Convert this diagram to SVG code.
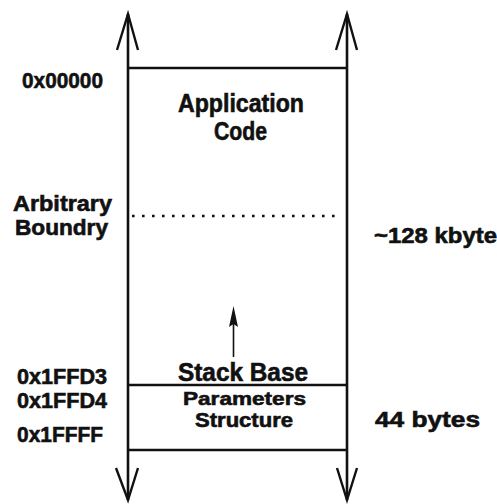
<svg xmlns="http://www.w3.org/2000/svg" width="497" height="504" viewBox="0 0 497 504">
  <style>
    .t { font-family: "Liberation Sans", Arial, sans-serif; font-weight: bold; fill: #111; stroke: #111; stroke-width: 0.6; }
    .ln { stroke: #111; stroke-width: 2.6; fill: none; }
    .arr { stroke: #111; stroke-width: 2.4; fill: none; stroke-linejoin: miter; }
    .dot { stroke: #111; stroke-width: 2.6; stroke-dasharray: 2.6 7.4; fill: none; }
  </style>

  <!-- address axis lines with open arrowheads at both ends -->
  <g id="connectors">
    <line class="ln" x1="128" y1="14" x2="128" y2="500"/>
    <line class="ln" x1="347" y1="14" x2="347" y2="500"/>
    <polyline class="arr" points="117,50 128,14 138,50"/>
    <polyline class="arr" points="336,50 347,14 357,50"/>
    <polyline class="arr" points="116,468 128,500 138,468"/>
    <polyline class="arr" points="337,468 347,500 357,468"/>
    <!-- stack growth arrow -->
    <line x1="233.5" y1="357" x2="233.5" y2="320" stroke="#111" stroke-width="1.6"/>
    <path d="M233.5,306 L238,327 L233.5,324 L229,327 Z" fill="#111"/>
  </g>

  <!-- application code region -->
  <g id="app-code">
    <line class="ln" x1="128" y1="68" x2="347" y2="68"/>
    <text class="t" x="241" y="112" font-size="25" text-anchor="middle" textLength="126" lengthAdjust="spacingAndGlyphs">Application</text>
    <text class="t" x="240.5" y="140" font-size="25" text-anchor="middle" textLength="53" lengthAdjust="spacingAndGlyphs">Code</text>
  </g>

  <!-- arbitrary boundary -->
  <g id="boundary">
    <line class="dot" x1="132" y1="216" x2="336" y2="216"/>
    <text class="t" x="13" y="211" font-size="22" textLength="99" lengthAdjust="spacingAndGlyphs">Arbitrary</text>
    <text class="t" x="15" y="235" font-size="22" textLength="93" lengthAdjust="spacingAndGlyphs">Boundry</text>
  </g>

  <!-- stack base -->
  <g id="stack-base">
    <line class="ln" x1="128" y1="385" x2="347" y2="385"/>
    <text class="t" x="243" y="381" font-size="25" text-anchor="middle" textLength="130" lengthAdjust="spacingAndGlyphs">Stack Base</text>
  </g>

  <!-- parameters structure region -->
  <g id="params">
    <line class="ln" x1="128" y1="450" x2="347" y2="450"/>
    <text class="t" x="244.5" y="405" font-size="19" text-anchor="middle" textLength="123" lengthAdjust="spacingAndGlyphs">Parameters</text>
    <text class="t" x="244" y="427" font-size="20" text-anchor="middle" textLength="98" lengthAdjust="spacingAndGlyphs">Structure</text>
  </g>

  <!-- address labels -->
  <g id="addresses">
    <text class="t" x="22" y="88" font-size="22" textLength="81" lengthAdjust="spacingAndGlyphs">0x00000</text>
    <text class="t" x="17" y="384" font-size="22" textLength="90" lengthAdjust="spacingAndGlyphs">0x1FFD3</text>
    <text class="t" x="17" y="408" font-size="22" textLength="90" lengthAdjust="spacingAndGlyphs">0x1FFD4</text>
    <text class="t" x="17" y="442" font-size="22" textLength="86" lengthAdjust="spacingAndGlyphs">0x1FFFF</text>
  </g>

  <!-- size labels -->
  <g id="sizes">
    <text class="t" x="374" y="243" font-size="22" textLength="123" lengthAdjust="spacingAndGlyphs">~128 kbyte</text>
    <text class="t" x="375" y="427" font-size="22" textLength="105" lengthAdjust="spacingAndGlyphs">44 bytes</text>
  </g>
</svg>
